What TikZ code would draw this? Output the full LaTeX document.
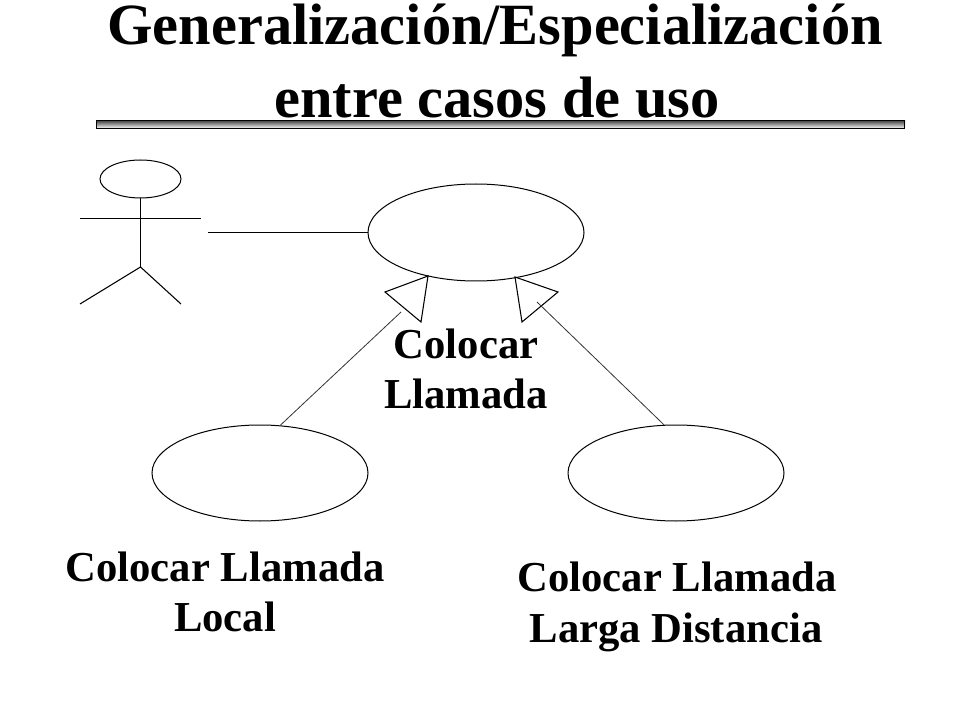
\documentclass[tikz,border=0pt]{standalone}
\usepackage{fontspec}
\setmainfont{Liberation Serif}
\usetikzlibrary{shapes.geometric}
\tikzset{
  usecase/.style={draw=black,ellipse,inner sep=0pt,line width=0.75pt},
  wire/.style={draw=black,line width=0.8pt},
  thin wire/.style={draw=black!80,line width=0.6pt},
  titletext/.style={font=\bfseries\fontsize{43.8}{52}\selectfont,anchor=base,inner sep=0pt,text=black},
  label/.style={font=\bfseries\fontsize{32}{38}\selectfont,anchor=base,inner sep=0pt,text=black}
}
\begin{document}
\begin{tikzpicture}[x=0.75pt,y=-0.75pt]
\useasboundingbox (0,0) rectangle (960,720);
\fill[white] (0,0) rectangle (960,720);
% title
\node[titletext] (t1) at (495,45) {Generalización/Especialización};
\node[titletext] (t2) at (497,118) {entre casos de uso};
\shade[top color=black!70,middle color=black!40,bottom color=black!5] (96,121) rectangle (905,128);
\draw[black,line width=0.75pt] (96.5,120.5) rectangle (904.5,128.5);
% actor
\node[usecase,minimum width=81*0.75pt,minimum height=38*0.75pt] (head) at (140.5,179) {};
\coordinate (hip) at (140.5,267);
\coordinate (armL) at (80,218.5);
\coordinate (armR) at (201,218.5);
\coordinate (legL) at (80,304);
\coordinate (legR) at (181,304);
\draw[wire] (head.south) -- (hip);
\draw[wire] (armL) -- (armR);
\draw[wire] (legL) -- (hip) -- (legR);
% use cases
\node[usecase,minimum width=216*0.75pt,minimum height=97*0.75pt] (main) at (476,232.5) {};
\node[usecase,minimum width=216*0.75pt,minimum height=96*0.75pt] (local) at (260,473) {};
\node[usecase,minimum width=216*0.75pt,minimum height=96*0.75pt] (ld) at (676,473) {};
% association
\coordinate (assoc) at (208,232.5);
\draw[wire] (assoc) -- (main.west);
% generalizations
\coordinate (ta) at (428,276);
\coordinate (tb) at (385,292);
\coordinate (tc) at (421,322);
\coordinate (tm) at (401,312);
\draw[wire] (ta) -- (tb) -- (tc) -- cycle;
\draw[thin wire] (local.67) -- (tm);
\coordinate (ua) at (515,277);
\coordinate (ub) at (558,292);
\coordinate (uc) at (522,322);
\coordinate (um) at (537,302);
\draw[wire] (ua) -- (ub) -- (uc) -- cycle;
\draw[thin wire] (ld.104) -- (um);
% labels
\node[label] (l1a) at (466,358) {Colocar};
\node[label] (l1b) at (466,408) {Llamada};
\node[label] (l2a) at (225,581) {Colocar Llamada};
\node[label] (l2b) at (225,631) {Local};
\node[label] (l3a) at (677,591) {Colocar Llamada};
\node[label] (l3b) at (676,642) {Larga Distancia};
\end{tikzpicture}
\end{document}
